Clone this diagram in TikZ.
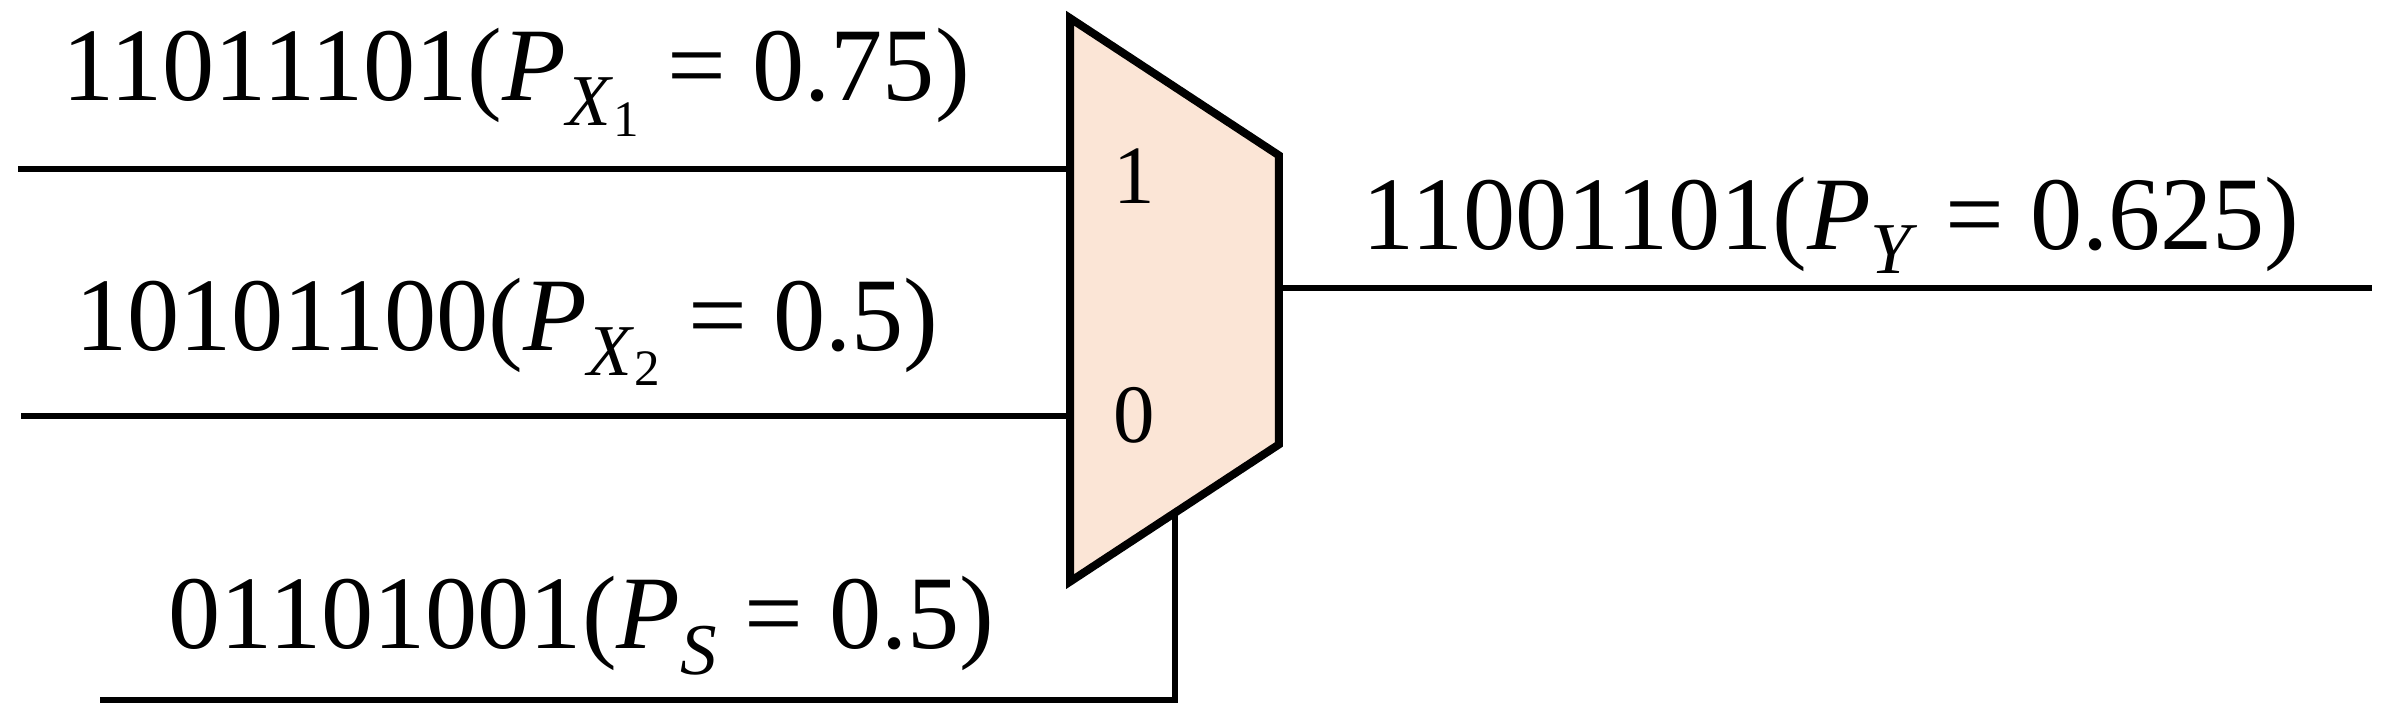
\documentclass[tikz,border=0pt]{standalone}
\usepackage{fontspec}
\setmainfont{Liberation Serif}
\newcommand{\eqs}{\hspace{0.25em}=\hspace{0.25em}}
\begin{document}
\begin{tikzpicture}[x=0.02cm,y=-0.02cm,
  wire/.style={line width=2.2pt},
  lbl/.style={font=\fontsize{39}{42}\selectfont,inner sep=0pt},
  pin/.style={font=\fontsize{31}{34}\selectfont,inner sep=0pt}]
\useasboundingbox (0,0) rectangle (1568,471);
\coordinate (a1) at (12,111);
\coordinate (m1) at (703,111);
\coordinate (a2) at (14,273);
\coordinate (m2) at (703,273);
\coordinate (yo) at (840,189);
\coordinate (ye) at (1558,189);
\coordinate (s0) at (772,338);
\coordinate (sc) at (772,460);
\coordinate (se) at (66,460);
\draw[wire] (a1) -- (m1);
\draw[wire] (a2) -- (m2);
\draw[wire] (yo) -- (ye);
\draw[wire] (s0) -- (sc) -- (se);
\draw[line width=3pt,fill={rgb,255:red,251;green,229;blue,214},line join=miter] (703,12) -- (840,102) -- (840,292) -- (703,382) -- cycle;
\node[pin] (p1) at (745,116) {1};
\node[pin] (p0) at (745,273) {0};
\node[lbl] (l1) at (339,54) {11011101(\textit{P}\textsubscript{\textit{X}\textsubscript{1}}\eqs 0.75)};
\node[lbl] (l2) at (333,218) {10101100(\textit{P}\textsubscript{\textit{X}\textsubscript{2}}\eqs 0.5)};
\node[lbl] (l3) at (382,411) {01101001(\textit{P}\textsubscript{\textit{S}}\eqs 0.5)};
\node[lbl] (l4) at (1203,148) {11001101(\textit{P}\textsubscript{\textit{Y}}\eqs 0.625)};
\end{tikzpicture}
\end{document}
